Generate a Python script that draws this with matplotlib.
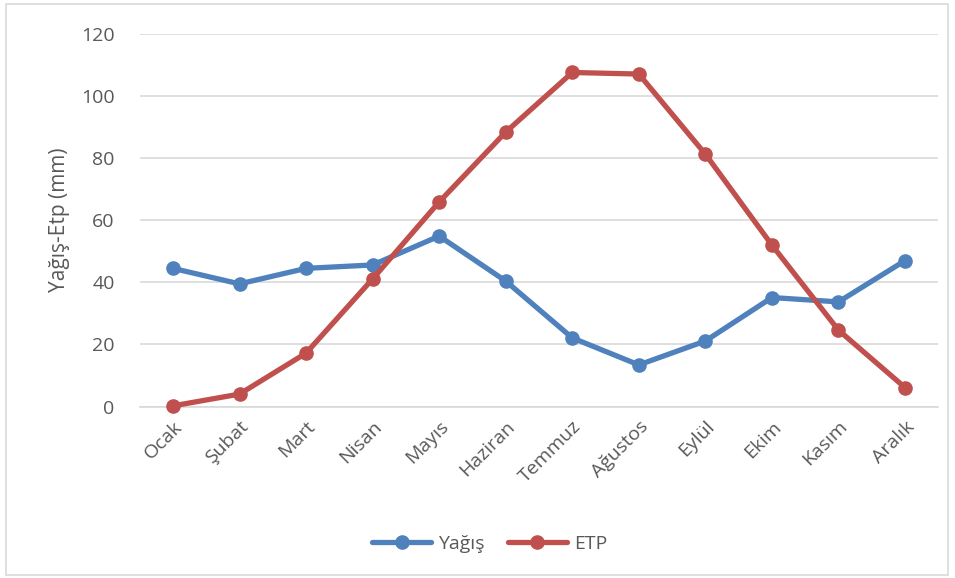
import matplotlib
matplotlib.use("Agg")
import matplotlib.pyplot as plt
from matplotlib.patches import Rectangle

months = ["Ocak", "Şubat", "Mart", "Nisan", "Mayıs", "Haziran", "Temmuz",
          "Ağustos", "Eylül", "Ekim", "Kasım", "Aralık"]
yagis = [44.5, 39.5, 44.5, 45.6, 54.9, 40.4, 22.1, 13.4, 21.1, 35.1, 33.7, 47.0]
etp = [0.2, 4.0, 17.2, 41.1, 65.9, 88.4, 107.6, 107.1, 81.3, 52.0, 24.6, 6.1]
yticks = [0, 20, 40, 60, 80, 100, 120]

plt.rcParams['font.family'] = ['Open Sans', 'DejaVu Sans']
txt = '#595959'

fig = plt.figure(figsize=(9.55, 5.78), dpi=100)
fig.patches.append(Rectangle((6/955, 1 - 575/578), 942/955, 571/578,
                             transform=fig.transFigure, fill=False,
                             edgecolor='#d9d9d9', linewidth=1.2))
ax = fig.add_axes([139.7/955, 1 - 406.5/578, (938.3-139.7)/955, (406.5-34)/578])

x = list(range(len(months)))
ax.plot(x, yagis, color='#4F81BD', lw=3.8, marker='o', ms=9.5, label='Yağış',
        solid_capstyle='round', zorder=3)
ax.plot(x, etp, color='#C0504D', lw=3.8, marker='o', ms=9.5, label='ETP',
        solid_capstyle='round', zorder=3)

ax.set_xlim(-0.5, 11.5)
ax.set_ylim(0, 120)
ax.set_yticks(yticks)
ax.yaxis.grid(True, color='#d9d9d9', lw=1.2)
ax.set_axisbelow(True)
for s in ['top', 'right', 'left']:
    ax.spines[s].set_visible(False)
ax.spines['bottom'].set_color('#d9d9d9')
ax.spines['bottom'].set_linewidth(1.2)
ax.tick_params(axis='both', length=0, colors=txt, labelsize=14)
ax.tick_params(axis='y', pad=18)
ax.set_xticks(x)
ax.set_xticklabels(months, rotation=45, ha='right', rotation_mode='anchor')
ax.tick_params(axis='x', pad=8)
ax.set_ylabel('Yağış-Etp (mm)', color=txt, fontsize=15, labelpad=8)
for l in ax.lines:
    l.set_clip_on(False)

leg = fig.legend(loc='center', bbox_to_anchor=(490/955, 1 - 544/578), ncol=2,
                 frameon=False, fontsize=14, handlelength=3.0,
                 columnspacing=1.2, handletextpad=0.4)
for t in leg.get_texts():
    t.set_color(txt)

fig.savefig('out.png', dpi=100)
